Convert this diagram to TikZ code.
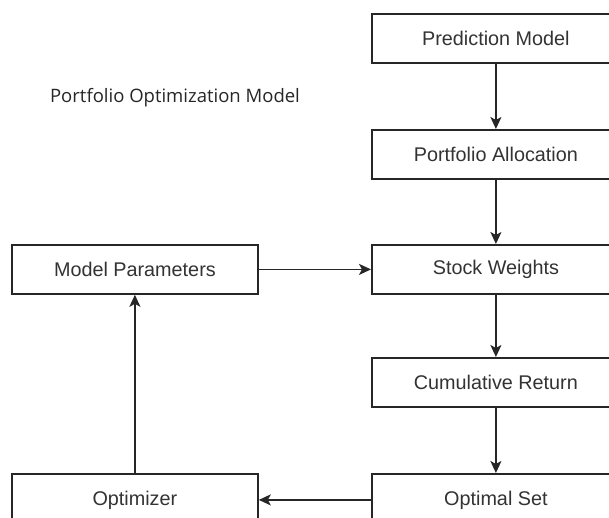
\documentclass[tikz,border=0pt]{standalone}
\usepackage{fontspec}
\setmainfont{Liberation Sans}
\newfontfamily\titlefont{Open Sans}
\usetikzlibrary{arrows.meta}
\begin{document}
\begin{tikzpicture}[x=1pt,y=-1pt,
  box/.style={draw=black!85, line width=1.8pt, fill=white, minimum width=248pt, minimum height=49pt, anchor=north west, inner sep=0pt, font=\fontsize{19.8}{22}\selectfont, text=black!80},
  conn/.style={draw=black!85, line width=1.8pt, -{Stealth[length=12pt,width=11pt,inset=3pt]}}]
\useasboundingbox (0,0) rectangle (609,518);
\clip (0,0) rectangle (609,518);
\node[font=\titlefont\fontsize{18.5}{20}\selectfont, text=black!85] (title) at (175,98) {Portfolio Optimization Model};
\node[box] (pred) at (371,13) {Prediction Model};
\node[box] (alloc) at (371,129) {Portfolio Allocation};
\node[box] (weights) at (371,244) {Stock Weights};
\node[box] (cum) at (371,357) {Cumulative Return};
\node[box, minimum height=52pt] (opt) at (371,473) {Optimal Set};
\node[box, minimum width=246pt] (params) at (11,244) {Model Parameters};
\node[box, minimum width=246pt, minimum height=52pt] (optim) at (11,473) {Optimizer};
\draw[conn] (pred) -- (alloc);
\draw[conn] (alloc) -- (weights);
\draw[conn] (weights) -- (cum);
\draw[conn] (cum) -- (opt);
\draw[conn] (params) -- (weights);
\draw[conn] (opt) -- (optim);
\draw[conn] (optim) -- (params);
\end{tikzpicture}
\end{document}
